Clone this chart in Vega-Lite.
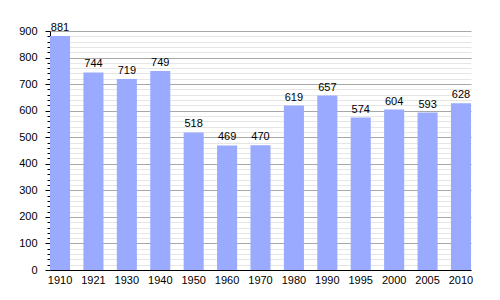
{
  "$schema": "https://vega.github.io/schema/vega-lite/v6.json",
  "width": 421,
  "height": 239,
  "autosize": "none",
  "padding": {"left": 50, "top": 31, "right": 29, "bottom": 30},
  "background": "white",
  "config": {"view": {"stroke": null}, "font": "Liberation Sans"},
  "data": {"values": [
    {"year": "1910", "pop": 881},
    {"year": "1921", "pop": 744},
    {"year": "1930", "pop": 719},
    {"year": "1940", "pop": 749},
    {"year": "1950", "pop": 518},
    {"year": "1960", "pop": 469},
    {"year": "1970", "pop": 470},
    {"year": "1980", "pop": 619},
    {"year": "1990", "pop": 657},
    {"year": "1995", "pop": 574},
    {"year": "2000", "pop": 604},
    {"year": "2005", "pop": 593},
    {"year": "2010", "pop": 628}
  ]},
  "encoding": {
    "x": {
      "field": "year", "type": "ordinal", "sort": null,
      "scale": {"paddingInner": 0.4, "paddingOuter": 0},
      "axis": {"title": null, "labelAngle": 0, "ticks": false, "domainColor": "#000", "domainWidth": 1, "labelFontSize": 11, "labelColor": "#000", "labelPadding": 4, "grid": false}
    }
  },
  "layer": [
    {
      "mark": {"type": "bar", "color": "#99aaff"},
      "encoding": {
        "y": {
          "field": "pop", "type": "quantitative",
          "scale": {"domain": [0, 900], "nice": false},
          "axis": {"title": null, "orient": "left", "values": [0,100,200,300,400,500,600,700,800,900], "grid": true, "gridColor": "#a8a8a8", "gridWidth": 1, "tickSize": 5, "tickColor": "#000", "domainColor": "#000", "labelFontSize": 11, "labelColor": "#000", "labelPadding": 8, "zindex": 0}
        }
      }
    },
    {
      "mark": {"type": "text", "baseline": "bottom", "dy": -3, "fontSize": 11, "color": "#000"},
      "encoding": {
        "y": {
          "field": "pop", "type": "quantitative",
          "axis": {"title": null, "orient": "left", "values": [20,40,60,80,120,140,160,180,220,240,260,280,320,340,360,380,420,440,460,480,520,540,560,580,620,640,660,680,720,740,760,780,820,840,860,880], "grid": true, "gridColor": "#e6e6e6", "gridWidth": 1, "tickSize": 3, "tickColor": "#000", "domain": false, "labels": false, "zindex": 0}
        },
        "text": {"field": "pop", "type": "quantitative"}
      }
    }
  ],
  "resolve": {"axis": {"y": "independent"}}
}
